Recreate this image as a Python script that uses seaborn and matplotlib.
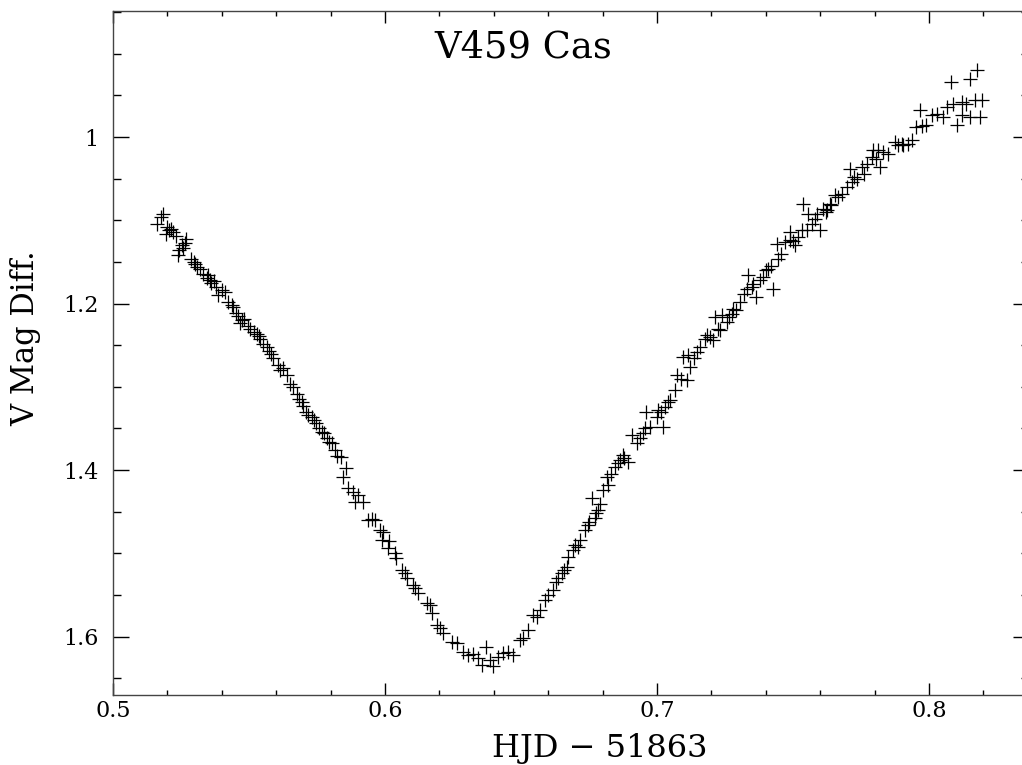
import matplotlib
matplotlib.use('Agg')
import matplotlib.pyplot as plt
import seaborn as sns
import pandas as pd

# Light curve, HJD - 51863 vs differential V magnitude
hjd = [
    0.5163, 0.5183, 0.5176, 0.5207, 0.5219, 0.5194, 0.5212, 0.5232, 0.5265, 0.5253,
    0.5244, 0.5240, 0.5270, 0.5286, 0.5296, 0.5310, 0.5320, 0.5332, 0.5345, 0.5357,
    0.5362, 0.5371, 0.5400, 0.5387, 0.5410, 0.5424, 0.5436, 0.5440, 0.5452, 0.5482,
    0.5467, 0.5495, 0.5518, 0.5528, 0.5540, 0.5553, 0.5565, 0.5580, 0.5590, 0.5608,
    0.5624, 0.5640, 0.5651, 0.5660, 0.5675, 0.5694, 0.5700, 0.5718, 0.5730, 0.5738,
    0.5746, 0.5767, 0.5775, 0.5786, 0.5804, 0.5815, 0.5825, 0.5837, 0.5857, 0.5844,
    0.5864, 0.5882, 0.5901, 0.5890, 0.5919, 0.5937, 0.5952, 0.5963, 0.5981, 0.5993,
    0.5989, 0.6015, 0.6011, 0.6037, 0.6040, 0.6062, 0.6073, 0.6081, 0.6103, 0.6110,
    0.6121, 0.6154, 0.6165, 0.6173, 0.6191, 0.6202, 0.6213, 0.6245, 0.6263, 0.6288,
    0.6306, 0.6324, 0.6343, 0.6355, 0.6371, 0.6386, 0.6398, 0.6416, 0.6435, 0.6453,
    0.6472, 0.6496, 0.6506, 0.6527, 0.6545, 0.6558, 0.6570, 0.6588, 0.6600, 0.6619,
    0.6630, 0.6637, 0.6650, 0.6668, 0.6674, 0.6692, 0.6700, 0.6711, 0.6717, 0.6735,
    0.6747, 0.6750, 0.6772, 0.6784, 0.6760, 0.6802, 0.6821, 0.6815, 0.6830, 0.6845,
    0.6864, 0.6876, 0.6880, 0.6894, 0.6925, 0.6907, 0.6937, 0.6950, 0.6956, 0.6974,
    0.6960, 0.6999, 0.7023, 0.7005, 0.7029, 0.7040, 0.7048, 0.7066, 0.7072, 0.7090,
    0.7109, 0.7121, 0.7097, 0.7115, 0.7146, 0.7158, 0.7175, 0.7183, 0.7207, 0.7225,
    0.7232, 0.7213, 0.7238, 0.7256, 0.7275, 0.7281, 0.7290, 0.7305, 0.7320, 0.7330,
    0.7348, 0.7366, 0.7336, 0.7379, 0.7391, 0.7400, 0.7409, 0.7428, 0.7446, 0.7440,
    0.7471, 0.7489, 0.7500, 0.7507, 0.7489, 0.7532, 0.7550, 0.7569, 0.7581, 0.7599,
    0.7556, 0.7538, 0.7587, 0.7611, 0.7620, 0.7624, 0.7636, 0.7654, 0.7667, 0.7680,
    0.7697, 0.7716, 0.7734, 0.7710, 0.7753, 0.7760, 0.7771, 0.7820, 0.7789, 0.7795,
    0.7814, 0.7832, 0.7850, 0.7875, 0.7887, 0.7900, 0.7905, 0.7924, 0.7936, 0.7954,
    0.7973, 0.7991, 0.7967, 0.8010, 0.8028, 0.8053, 0.8065, 0.8089, 0.8120, 0.8138,
    0.8102, 0.8120, 0.8151, 0.8188, 0.8169, 0.8194, 0.8083, 0.8151, 0.8175,
    0.5200, 0.5258, 0.5303, 0.5350, 0.5380, 0.5460, 0.5475, 0.5505, 0.5535, 0.5575,
    0.5615, 0.5685, 0.5710, 0.5757, 0.5795, 0.6660, 0.6775, 0.6790, 0.6855, 0.7015,
    0.7135, 0.7195, 0.7265, 0.7355, 0.7420, 0.7455, 0.7520, 0.7640, 0.7725, 0.7805,
]
vmag = [
    1.104, 1.092, 1.096, 1.112, 1.114, 1.116, 1.110, 1.119, 1.127, 1.130,
    1.136, 1.142, 1.123, 1.146, 1.150, 1.156, 1.159, 1.164, 1.169, 1.172,
    1.175, 1.173, 1.184, 1.190, 1.186, 1.198, 1.202, 1.204, 1.211, 1.218,
    1.223, 1.227, 1.234, 1.236, 1.242, 1.248, 1.252, 1.260, 1.265, 1.274,
    1.277, 1.286, 1.296, 1.300, 1.308, 1.318, 1.323, 1.334, 1.336, 1.340,
    1.344, 1.354, 1.356, 1.362, 1.368, 1.376, 1.383, 1.384, 1.398, 1.408,
    1.421, 1.426, 1.430, 1.438, 1.438, 1.460, 1.459, 1.460, 1.472, 1.474,
    1.484, 1.485, 1.493, 1.499, 1.505, 1.520, 1.523, 1.529, 1.538, 1.541,
    1.547, 1.559, 1.562, 1.571, 1.586, 1.589, 1.595, 1.606, 1.608, 1.618,
    1.622, 1.621, 1.626, 1.634, 1.612, 1.628, 1.635, 1.624, 1.620, 1.618,
    1.622, 1.604, 1.602, 1.592, 1.574, 1.576, 1.568, 1.556, 1.550, 1.544,
    1.534, 1.530, 1.524, 1.516, 1.504, 1.496, 1.490, 1.492, 1.484, 1.472,
    1.466, 1.462, 1.458, 1.448, 1.434, 1.424, 1.418, 1.408, 1.405, 1.396,
    1.388, 1.382, 1.385, 1.390, 1.368, 1.358, 1.362, 1.356, 1.350, 1.348,
    1.330, 1.336, 1.348, 1.328, 1.324, 1.318, 1.316, 1.304, 1.286, 1.290,
    1.292, 1.276, 1.264, 1.262, 1.258, 1.252, 1.242, 1.238, 1.244, 1.230,
    1.232, 1.216, 1.214, 1.222, 1.212, 1.206, 1.208, 1.198, 1.188, 1.182,
    1.180, 1.192, 1.166, 1.172, 1.168, 1.160, 1.158, 1.182, 1.146, 1.128,
    1.126, 1.124, 1.125, 1.130, 1.114, 1.112, 1.112, 1.104, 1.098, 1.112,
    1.092, 1.080, 1.092, 1.086, 1.090, 1.088, 1.080, 1.070, 1.072, 1.068,
    1.060, 1.054, 1.050, 1.038, 1.036, 1.045, 1.032, 1.036, 1.024, 1.016,
    1.016, 1.018, 1.020, 1.006, 1.010, 1.008, 1.010, 1.008, 1.004, 0.988,
    0.987, 0.986, 0.968, 0.974, 0.972, 0.976, 0.964, 0.960, 0.958, 0.960,
    0.986, 0.974, 0.976, 0.976, 0.955, 0.955, 0.934, 0.930, 0.920,
    1.108, 1.133, 1.153, 1.166, 1.180, 1.215, 1.220, 1.230, 1.239, 1.257,
    1.280, 1.314, 1.330, 1.350, 1.366, 1.520, 1.452, 1.441, 1.392, 1.330,
    1.265, 1.240, 1.216, 1.176, 1.155, 1.140, 1.120, 1.082, 1.048, 1.026,
]

xtick_values = [0.5, 0.6, 0.7, 0.8]
xtick_labels = ['0.5', '0.6', '0.7', '0.8']
ytick_values = [1.0, 1.2, 1.4, 1.6]
ytick_labels = ['1', '1.2', '1.4', '1.6']

df = pd.DataFrame({'hjd': hjd, 'vmag': vmag})

sns.set_theme(style='ticks')
plt.rcParams['font.family'] = ['DejaVu Serif', 'DejaVu Sans']
plt.rcParams['text.color'] = 'black'
plt.rcParams['axes.labelcolor'] = 'black'
plt.rcParams['xtick.color'] = 'black'
plt.rcParams['ytick.color'] = 'black'

fig = plt.figure(figsize=(10.22, 7.65), dpi=100)
# right spine sits just past the edge of the image, like the original
ax = fig.add_axes([113 / 1022, 70 / 765, 916 / 1022, 684 / 765])

sns.scatterplot(data=df, x='hjd', y='vmag', marker='+', s=90, color='black',
                linewidth=0.9, ax=ax, legend=False)

ax.set_xlim(0.5, 0.8368)
ax.set_ylim(1.67, 0.8487)

ax.set_xticks(xtick_values)
ax.set_xticklabels(xtick_labels)
ax.set_yticks(ytick_values)
ax.set_yticklabels(ytick_labels)
ax.xaxis.set_minor_locator(matplotlib.ticker.MultipleLocator(0.02))
ax.yaxis.set_minor_locator(matplotlib.ticker.MultipleLocator(0.05))

ax.tick_params(axis='both', which='both', direction='in', top=True, right=True,
               color='black', width=1.0)
ax.tick_params(axis='x', which='major', length=8.3, pad=3.5, labelsize=16)
ax.tick_params(axis='x', which='minor', length=3.6)
ax.tick_params(axis='y', which='major', length=11.5, pad=10.5, labelsize=16)
ax.tick_params(axis='y', which='minor', length=5.8)

for sp in ax.spines.values():
    sp.set_color('#444444')
    sp.set_linewidth(1.0)

ax.set_xlabel('HJD \u2212 51863', fontsize=23)
ax.xaxis.set_label_coords((600 - 113) / 916, (695 - 748) / 684)
ax.xaxis.label.set_va('center')
ax.set_ylabel('V Mag Diff.', fontsize=22)
ax.yaxis.set_label_coords((26 - 113) / 916, (695 - 338) / 684)
ax.yaxis.label.set_va('center')

ax.text((523 - 113) / 916, (695 - 47) / 684, 'V459 Cas', transform=ax.transAxes,
        ha='center', va='center', fontsize=26.5)

fig.savefig('out.png', dpi=100)
